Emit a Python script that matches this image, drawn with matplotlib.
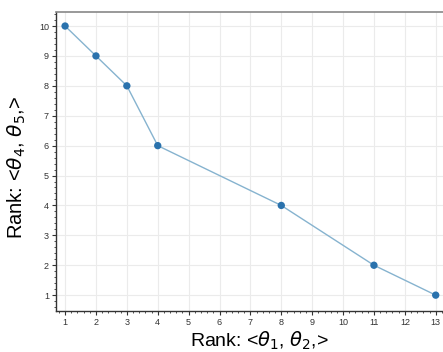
import matplotlib
matplotlib.use("Agg")
import matplotlib.pyplot as plt
from matplotlib.ticker import MultipleLocator

rank_12 = [1, 2, 3, 4, 8, 11, 13]
rank_45 = [10, 9, 8, 6, 4, 2, 1]
x_ticks = list(range(1, 14))
y_ticks = list(range(1, 11))

plt.rcParams['font.family'] = ['Liberation Sans', 'DejaVu Sans']
plt.rcParams['mathtext.fontset'] = 'dejavusans'

fig = plt.figure(figsize=(4.43, 3.52), dpi=100)
ax = fig.add_axes([0.126, 0.1165, 0.921, 0.8495])

ax.plot(rank_12, rank_45, color='#86b3cf', lw=1.0, zorder=2)
ax.scatter(rank_12, rank_45, s=28, color='#2a72ad', zorder=3, edgecolors='none')

ax.set_xlim(0.7, 13.91)
ax.set_ylim(0.47, 10.47)
ax.set_xticks(x_ticks)
ax.set_yticks(y_ticks)
ax.xaxis.set_minor_locator(MultipleLocator(0.2))
ax.yaxis.set_minor_locator(MultipleLocator(0.2))
ax.tick_params(which='major', direction='out', length=3, width=0.8, labelsize=6.5, colors='#333333', pad=2)
ax.tick_params(which='minor', direction='out', length=1.5, width=0.6, colors='#333333')
ax.grid(True, which='major', color='#ebebeb', lw=0.8)
ax.set_axisbelow(True)

for s in ['left', 'bottom']:
    ax.spines[s].set_color('#333333')
    ax.spines[s].set_linewidth(1.0)
ax.spines['top'].set_color('#888888')
ax.spines['top'].set_linewidth(1.2)
ax.spines['right'].set_visible(False)

ax.set_xlabel(r'Rank: <$\theta_1$, $\theta_2$,>', fontsize=14, labelpad=2)
ax.set_ylabel(r'Rank: <$\theta_4$, $\theta_5$,>', fontsize=14.5)
ax.yaxis.set_label_coords(-0.068, 0.48)

fig.savefig('out.png', dpi=100)
